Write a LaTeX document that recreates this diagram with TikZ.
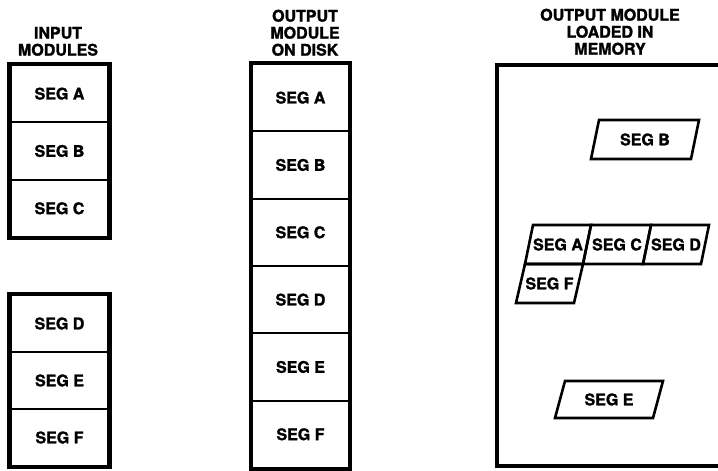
\documentclass[tikz,border=0pt]{standalone}
\usepackage{fontspec}
\setmainfont{TeX Gyre Heros}[BoldFeatures={FakeBold=1.6}]
\begin{document}
\begin{tikzpicture}[x=1pt,y=-1pt,
    every node/.style={font=\fontsize{16}{17}\selectfont\bfseries},
    title/.style={align=center,anchor=south,inner sep=0pt},
    cell/.style={draw,line width=2pt,inner sep=0pt},
    segbox/.style={draw,line width=2.6pt,line join=miter},
    frame/.style={line width=4.5pt,line join=miter}]
    \useasboundingbox (0,0) rectangle (718,471);
    % column titles
    \node[title] (tin) at (58,56) {INPUT\\MODULES};
    \node[title] (tdisk) at (305,56) {OUTPUT\\MODULE\\ON DISK};
    \node[title] (tmem) at (610,55) {OUTPUT MODULE\\LOADED IN\\MEMORY};
    % input modules
    \foreach \s [count=\i] in {A,B,C} {
        \node[cell,minimum width=98pt,minimum height=57.33pt] (in\s) at (59.5,65+57.33*\i-28.67) {SEG \s};
    }
    \foreach \s [count=\i] in {D,E,F} {
        \node[cell,minimum width=98pt,minimum height=57pt] (in\s) at (59.5,295+57*\i-28.5) {SEG \s};
    }
    \draw[frame] (inA.north west) rectangle (inC.south east);
    \draw[frame] (inD.north west) rectangle (inF.south east);
    % output module on disk
    \foreach \s [count=\i] in {A,...,F} {
        \node[cell,minimum width=97pt,minimum height=67.33pt] (disk\s) at (300.5,64+67.33*\i-33.67) {SEG \s};
    }
    \draw[frame] (diskA.north west) rectangle (diskF.south east);
    % output module loaded in memory
    \coordinate (memtl) at (497,65);
    \coordinate (membl) at (497,466);
    \draw[frame] (memtl -| 718,0) -- (memtl) -- (membl) -- (membl -| 718,0);
    \foreach \x/\y/\w/\h/\sl/\s in {
        525/264/58/39/8/A,
        583/264/60/39/8/C,
        643/264/58/39/8/D,
        516/303/58/39/9/F,
        591/159/100/39/8/B,
        555/418/98/37/10/E
    } {
        \draw[segbox] (\x,\y) -- ++(\sl,-\h) -- ++(\w,0) -- ++(-\sl,\h) -- cycle;
        \node[inner sep=0pt] (mem\s) at (\x+\w/2+\sl/2,\y-\h/2) {SEG \s};
    }
\end{tikzpicture}
\end{document}
